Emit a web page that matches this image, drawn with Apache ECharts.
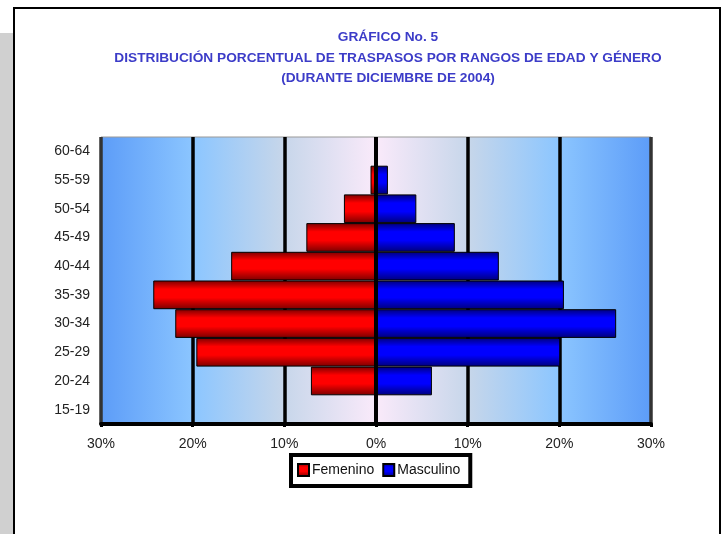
<!DOCTYPE html>
<html>
<head>
<meta charset="utf-8">
<script src="https://cdn.jsdelivr.net/npm/echarts@6/dist/echarts.min.js"></script>
<style>
html, body { margin: 0; padding: 0; background: #fff; }
#chart { width: 723px; height: 534px; }
</style>
</head>
<body>
<div id="chart"></div>
<script>
// rangos de edad (de abajo hacia arriba)
var rangosEdad = ['15-19', '20-24', '25-29', '30-34', '35-39', '40-44', '45-49', '50-54', '55-59', '60-64'];
// porcentaje de traspasos por genero
var femenino = [0, 7.1, 19.6, 21.9, 24.3, 15.8, 7.6, 3.5, 0.6, 0];
var masculino = [0, 6.1, 20.1, 26.2, 20.5, 13.4, 8.6, 4.4, 1.3, 0];
var tituloLineas = [
	'GRÁFICO No. 5',
	'DISTRIBUCIÓN PORCENTUAL DE TRASPASOS POR RANGOS DE EDAD Y GÉNERO',
	'(DURANTE DICIEMBRE DE 2004)'
];

var fuente = '"Liberation Sans", Arial, sans-serif';

function barGradient(dark, bright) {
	return new echarts.graphic.LinearGradient(0, 0, 0, 1, [
		{ offset: 0, color: dark },
		{ offset: 0.3, color: bright },
		{ offset: 0.6, color: bright },
		{ offset: 1, color: dark }
	]);
}

var chart = echarts.init(document.getElementById('chart'));

var option = {
	animation: false,
	backgroundColor: '#fff',
	graphic: [{
		type: 'rect',
		z: -10,
		shape: { x: 0, y: 33, width: 13, height: 520 },
		style: { fill: '#d0d0d0' }
	}, {
		type: 'rect',
		z: -9,
		shape: { x: 14, y: 8, width: 706, height: 540 },
		style: { fill: 'none', stroke: '#000', lineWidth: 2 }
	}],
	title: {
		text: tituloLineas.join('\n'),
		left: 383,
		top: 22,
		textAlign: 'center',
		textStyle: {
			fontFamily: fuente,
			fontSize: 13.7,
			fontWeight: 'bold',
			color: '#3c3cc8',
			lineHeight: 20.5
		}
	},
	legend: {
		data: ['Femenino', 'Masculino'],
		left: 291,
		top: 455,
		orient: 'horizontal',
		icon: 'rect',
		itemWidth: 11,
		itemHeight: 12,
		itemGap: 8,
		padding: [8, 10, 9, 6],
		borderColor: '#000',
		borderWidth: 4,
		backgroundColor: '#fff',
		textStyle: { fontFamily: fuente, fontSize: 14, color: '#111', padding: [0, 0, 0, -2] }
	},
	grid: {
		left: 101,
		right: 72,
		top: 137,
		bottom: 110,
		show: true,
		borderColor: '#999',
		borderWidth: 1,
		backgroundColor: new echarts.graphic.LinearGradient(0, 0, 1, 0, [
			{ offset: 0, color: '#5c9cf8' },
			{ offset: 0.17, color: '#8cc6ff' },
			{ offset: 0.33, color: '#c6d6ea' },
			{ offset: 0.5, color: '#faeafa' },
			{ offset: 0.67, color: '#c6d6ea' },
			{ offset: 0.83, color: '#8cc6ff' },
			{ offset: 1, color: '#5c9cf8' }
		])
	},
	xAxis: {
		type: 'value',
		min: -30,
		max: 30,
		interval: 10,
		axisLine: { show: true, onZero: false, lineStyle: { color: '#000', width: 4 } },
		axisTick: { show: true, length: 3, lineStyle: { color: '#000', width: 3 } },
		axisLabel: {
			margin: 13,
			fontFamily: fuente,
			fontSize: 14,
			color: '#222',
			formatter: function(v) { return Math.abs(v) + '%'; }
		},
		splitLine: {
			show: true,
			lineStyle: { color: ['#333', '#000', '#000', '#000', '#000', '#000', '#333'], width: 3.5 }
		}
	},
	yAxis: {
		type: 'category',
		data: rangosEdad,
		axisLine: { show: false },
		axisTick: { show: false },
		axisLabel: { margin: 11, fontFamily: fuente, fontSize: 14, color: '#222' },
		splitLine: { show: false }
	},
	series: [{
		name: 'Femenino',
		type: 'bar',
		stack: 'total',
		barWidth: '100%',
		data: femenino.map(function(v) { return -v; }),
		itemStyle: { color: barGradient('#7a0000', '#ff0000'), borderColor: '#000', borderWidth: 1 }
	}, {
		name: 'Masculino',
		type: 'bar',
		stack: 'total',
		barWidth: '100%',
		data: masculino,
		itemStyle: { color: barGradient('#00007a', '#0000ff'), borderColor: '#000', borderWidth: 1 },
		markLine: {
			silent: true,
			symbol: 'none',
			label: { show: false },
			lineStyle: { color: '#000', width: 4, type: 'solid' },
			data: [{ xAxis: 0 }]
		}
	}]
};

chart.setOption(option);
</script>
</body>
</html>
